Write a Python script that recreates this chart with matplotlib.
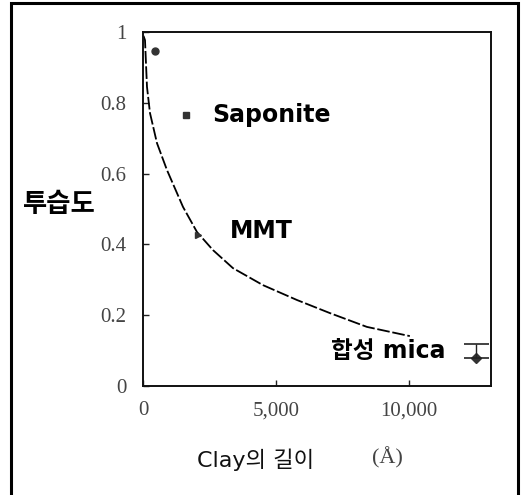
import matplotlib
matplotlib.use('Agg')
import matplotlib.pyplot as plt

# curve
curve_len = [19, 75, 150, 263, 526, 902, 1504, 2030, 2631, 3383, 4511, 5789, 7029, 8420, 9661, 10037]
curve_perm = [0.989, 0.977, 0.845, 0.771, 0.686, 0.610, 0.506, 0.435, 0.384, 0.333,
              0.285, 0.243, 0.206, 0.167, 0.147, 0.141]

# measured clays
clay_names = ['', 'Saponite', 'MMT', '합성 mica']
clay_len = [451, 1616, 2067, 12518]
clay_perm = [0.946, 0.766, 0.427, 0.079]
clay_markers = ['o', 's', '>', 'D']
mica_err_up = 0.04

xticks = [0, 5000, 10000]
xtick_labels = ['0', '5,000', '10,000']
yticks = [0, 0.2, 0.4, 0.6, 0.8, 1]
ytick_labels = ['0', '0.2', '0.4', '0.6', '0.8', '1']

fig = plt.figure(figsize=(5.28, 4.95), dpi=100)
ax = fig.add_axes([143/528, 1-386/495, (491-143)/528, (386-32)/495])

ax.plot(curve_len, curve_perm, color='black', lw=1.3, linestyle=(0, (7, 1.5)))

for x, y, m in zip(clay_len, clay_perm, clay_markers):
    ax.plot(x, y, marker=m, color='#333333', markersize=5, linestyle='None')
ax.errorbar(clay_len[3], clay_perm[3], yerr=[[0], [mica_err_up]], fmt='none',
            ecolor='#222222', capsize=9, elinewidth=1, capthick=1.2)

lab_font = dict(family=['DejaVu Sans', 'Noto Sans CJK KR'], fontweight='bold', fontsize=17)
ax.text(2594, clay_perm[1], clay_names[1], va='center', ha='left', **lab_font)
ax.text(3270, clay_perm[2] + 0.01, clay_names[2], va='center', ha='left', **lab_font)
ax.text(7067, 0.100, clay_names[3], va='center', ha='left', **lab_font)

ax.set_xlim(0, 13090)
ax.set_ylim(0, 1)
ax.set_xticks(xticks)
ax.set_xticklabels(xtick_labels)
ax.set_yticks(yticks)
ax.set_yticklabels(ytick_labels)
ax.tick_params(direction='in', length=4, width=1, labelsize=15, colors='#222222',
               labelcolor='#444444')
ax.tick_params(axis='x', pad=11)
ax.tick_params(axis='y', pad=12)
for lab in ax.get_xticklabels() + ax.get_yticklabels():
    lab.set_family('Liberation Serif')
for sp in ax.spines.values():
    sp.set_linewidth(1.4)
    sp.set_color('#111111')

fig.text(23/528, 1-205/495, '투습도', ha='left', va='center',
         family=['Noto Sans CJK KR', 'DejaVu Sans'], fontweight='bold', fontsize=19)
fig.text(197/528, 1-460/495, 'Clay의 길이', ha='left', va='center',
         family=['DejaVu Sans', 'Noto Sans CJK KR'], fontsize=16, color='#111111')
fig.text(387/528, 1-458/495, '(Å)', ha='center', va='center',
         family='Liberation Serif', fontsize=16, color='#444444')

fig.add_artist(plt.Rectangle((11/528, -0.02), (518-11)/528, 1-3/495+0.02, fill=False,
                             lw=2.2, edgecolor='black', transform=fig.transFigure))

fig.savefig('out.png', dpi=100)
